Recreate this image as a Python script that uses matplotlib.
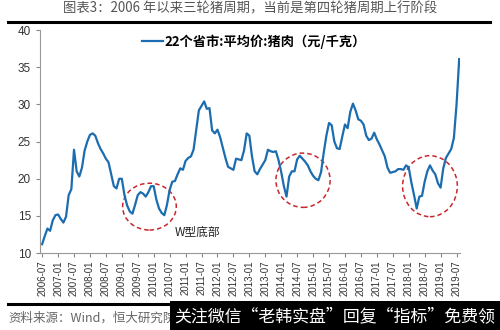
import matplotlib.pyplot as plt
import numpy as np
from matplotlib.patches import Ellipse, Rectangle

# 中文字体
plt.rcParams["font.family"] = ["Noto Sans CJK SC", "DejaVu Sans"]
plt.rcParams["axes.unicode_minus"] = False

# 22个省市猪肉平均价（元/千克），2006-07 起按月
price = [
    11.2, 12.3, 13.3, 13.0, 14.4, 15.1,
    15.2, 14.6, 14.1, 14.9, 17.8, 18.6,
    23.9, 21.0, 20.3, 21.5, 23.8, 25.0,
    25.9, 26.1, 25.8, 24.8, 24.0, 23.4,
    22.7, 22.2, 20.6, 19.0, 18.7, 20.0,
    20.0, 17.8, 16.4, 15.6, 15.3, 16.5,
    17.8, 18.2, 18.0, 17.6, 18.2, 19.0,
    19.0, 17.2, 16.0, 15.4, 15.1, 16.5,
    18.5, 19.6, 19.7, 20.6, 21.4, 21.2,
    22.4, 22.8, 23.0, 23.9, 26.6, 29.2,
    29.8, 30.4, 29.4, 29.5, 26.5, 26.1,
    26.6, 25.6, 24.2, 22.8, 21.6, 21.4,
    21.2, 22.7, 22.6, 22.5, 23.8, 26.1,
    25.8, 23.0, 21.0, 20.6, 21.3, 21.9,
    22.5, 23.9, 23.7, 23.6, 23.7, 22.5,
    20.9, 19.0, 17.6, 20.3, 21.0, 21.0,
    22.6, 23.1, 22.7, 22.3, 21.8, 21.0,
    20.4, 20.0, 19.8, 20.9, 23.5, 25.8,
    27.5, 27.2, 25.0, 24.1, 24.0, 25.7,
    27.3, 26.8, 29.0, 30.1, 29.2, 28.0,
    27.8, 27.3, 25.8, 25.2, 25.4, 26.2,
    25.3, 24.6, 23.8, 23.0, 21.5, 20.8,
    20.9, 21.0, 21.3, 21.3, 21.2, 21.8,
    21.5, 19.5, 17.8, 16.0, 17.6, 17.7,
    19.6, 21.0, 21.8, 21.1, 20.6, 19.4,
    18.8, 21.4, 22.8, 23.4, 24.0, 25.5,
    30.0, 36.1,
]

# 横轴标签（每半年一个）
tick_labels = []
for year in range(2006, 2020):
    for mon in ["01", "07"]:
        if year == 2006 and mon == "01":
            continue
        tick_labels.append(f"{year}-{mon}")

# 三个周期底部的圈注：(中心月序, 中心价格, 宽度, 高度)
bottoms = [(40.4, 16.25, 20.2, 6.3), (98.2, 19.8, 20.4, 7.3), (146.0, 19.0, 20.6, 8.2)]

x = np.arange(len(price))

fig = plt.figure(figsize=(5, 3.3), dpi=100)
ax = fig.add_axes([0.08, 0.233, 0.84, 0.676])

ax.plot(x, price, color="#1b6db0", linewidth=1.6,
        label="22个省市:平均价:猪肉（元/千克）")

for cx, cy, w, h in bottoms:
    ax.add_patch(Ellipse((cx, cy), w, h, fill=False, edgecolor="#c8282d",
                         linestyle=(0, (3, 2)), linewidth=1.1))

ax.text(50, 12.85, "W型底部", fontsize=8.5, color="#222222", va="center")

# 坐标轴
ax.set_xlim(-0.8, 157.3)
ax.set_ylim(10, 40)
ax.set_yticks([10, 15, 20, 25, 30, 35, 40])
ax.set_xticks(np.arange(0, 157, 6))
ax.set_xticklabels(tick_labels, rotation=90, fontsize=7,
                   family=["Liberation Sans"], color="#333333")
for lab in ax.get_yticklabels():
    lab.set_family(["Liberation Sans"])
ax.tick_params(axis="y", labelsize=8.5, colors="#888888", labelcolor="#333333",
               length=3, width=0.8)
ax.tick_params(axis="x", colors="#888888", labelcolor="#333333",
               length=3, width=0.8, pad=2)
for side in ["top", "right"]:
    ax.spines[side].set_visible(False)
for side in ["left", "bottom"]:
    ax.spines[side].set_color("#999999")
    ax.spines[side].set_linewidth(0.8)

leg = ax.legend(loc="upper center", bbox_to_anchor=(0.51, 1.035), frameon=False,
                handlelength=1.6, handletextpad=0.1,
                prop={"family": ["Noto Sans CJK SC"], "weight": "bold", "size": 9.5})

# 标题、分隔线、资料来源
fig.text(0.5, 0.973, "图表3：2006 年以来三轮猪周期，当前是第四轮猪周期上行阶段",
         ha="center", va="center", fontsize=9.6, color="#555555")
fig.add_artist(plt.Line2D([0.016, 0.98], [0.933, 0.933], color="black", linewidth=2.2))
fig.add_artist(plt.Line2D([0.016, 0.35], [0.079, 0.079], color="black", linewidth=2.2))
fig.text(0.016, 0.036, "资料来源：Wind，恒大研究院", fontsize=9, color="#666666",
         style="italic", va="center")

# 底部水印
fig.add_artist(Rectangle((0.34, 0.0), 0.66, 0.087, transform=fig.transFigure,
                         facecolor="black", edgecolor="none", zorder=5))
fig.text(0.67, 0.043, "关注微信\u201c老韩实盘\u201d回复\u201c指标\u201d免费领", fontsize=12.2,
         color="white", va="center", ha="center", zorder=6)

fig.savefig("out.png", dpi=100)
